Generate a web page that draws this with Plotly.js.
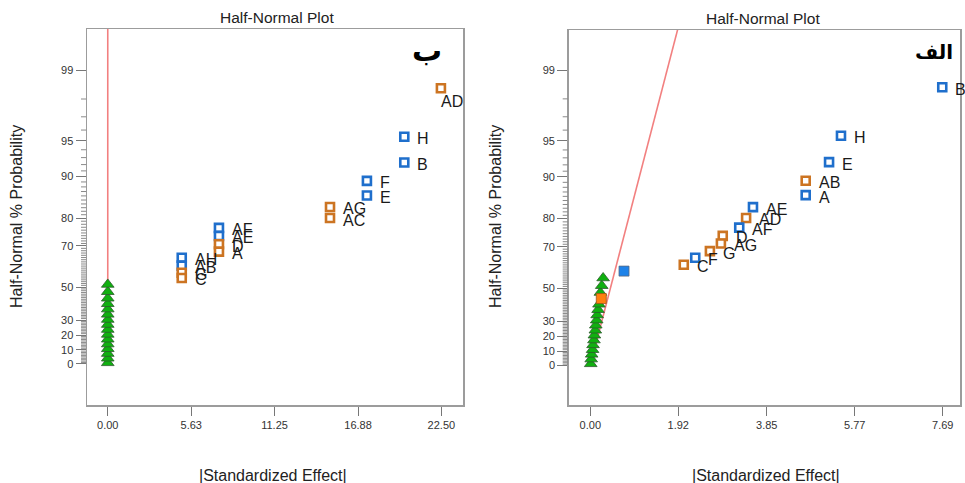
<!DOCTYPE html>
<html>
<head>
<meta charset="utf-8">
<script src="https://cdn.plot.ly/plotly-3.0.1.min.js"></script>
<style>html,body{margin:0;padding:0;background:#fff;overflow:hidden}#chart{width:965px;height:483px}</style>
</head>
<body>
<div id="chart"></div>
<script>
// ---------- DATA ----------
// Left panel (ب): labelled effects
const leftLabels = ['AD','H','B','F','E','AG','AC','AF','AE','D','A','AH','AB','G','C'];
const leftEffect = [22.47,20.0,20.0,17.48,17.48,14.99,14.99,7.50,7.50,7.50,7.50,4.99,4.99,4.99,4.99];
const leftProb   = [98.45,95.4,92.3,89.2,86.1,83.2,80.0,76.8,73.9,70.7,67.6,64.9,61.2,57.7,55.0];
const leftSign   = ['-','+','+','+','+','-','-','+','+','-','-','+','+','-','-'];
// Left panel error terms
const leftErrEffect = [0,0,0,0,0,0,0,0,0,0,0,0,0,0,0,0];
const leftErrProb   = [0.8,4.0,7.3,10.6,13.9,17.2,20.5,23.8,27.1,30.4,33.7,37.0,40.3,43.6,47.4,51.5];
// Left panel reference line
const leftLineEffect = [0, 0];
const leftLineProb   = [0, 99.9];

// Right panel (الف): labelled effects
const rightLabels = ['B','H','E','AB','A','AE','AD','AF','D','AG','G','F','C'];
const rightEffect = [7.68,5.47,5.21,4.70,4.70,3.55,3.40,3.25,2.89,2.85,2.61,2.29,2.04];
const rightProb   = [98.48,95.5,92.4,89.3,86.3,83.3,80.2,77.1,74.2,71.3,68.2,65.3,62.1];
const rightSign   = ['+','+','+','-','+','+','-','+','-','-','-','+','-'];
// Right panel unlabelled (filled) effects
const rightFillEffect = [0.736, 0.24];
const rightFillProb   = [59.0, 44.1];
const rightFillSign   = ['+','-'];
// Right panel error terms
const rightErrEffect = [0.01,0.02,0.03,0.05,0.06,0.08,0.09,0.11,0.12,0.14,0.15,0.17,0.19,0.22,0.25,0.28];
const rightErrProb   = [1.2,4.5,7.8,11.0,14.3,17.6,20.9,24.2,27.5,30.8,34.1,37.4,40.7,47.6,51.4,55.5];
// Right panel reference line
const rightLineEffect = [0, 1.93];
const rightLineProb   = [0, 99.7];

// Tick labels
const leftXTicks  = ['0.00','5.63','11.25','16.88','22.50'];
const rightXTicks = ['0.00','1.92','3.85','5.77','7.69'];
const yTickLabels = ['0','10','20','30','50','70','80','90','95','99'];

// ---------- SCALE: half-normal probability ----------
function invNorm(p){
  const a=[-3.969683028665376e+01,2.209460984245205e+02,-2.759285104469687e+02,1.383577518672690e+02,-3.066479806614716e+01,2.506628277459239e+00];
  const b=[-5.447609879822406e+01,1.615858368580409e+02,-1.556989798598866e+02,6.680131188771972e+01,-1.328068155288572e+01];
  const c=[-7.784894002430293e-03,-3.223964580411365e-01,-2.400758277161838e+00,-2.549732539343734e+00,4.374664141464968e+00,2.938163982698783e+00];
  const d=[7.784695709041462e-03,3.224671290700398e-01,2.445134137142996e+00,3.754408661907416e+00];
  const pl=0.02425, ph=1-pl; let q,r;
  if(p<pl){q=Math.sqrt(-2*Math.log(p));return (((((c[0]*q+c[1])*q+c[2])*q+c[3])*q+c[4])*q+c[5])/((((d[0]*q+d[1])*q+d[2])*q+d[3])*q+1);}
  if(p<=ph){q=p-0.5;r=q*q;return (((((a[0]*r+a[1])*r+a[2])*r+a[3])*r+a[4])*r+a[5])*q/(((((b[0]*r+b[1])*r+b[2])*r+b[3])*r+b[4])*r+1);}
  q=Math.sqrt(-2*Math.log(1-p));return -(((((c[0]*q+c[1])*q+c[2])*q+c[3])*q+c[4])*q+c[5])/((((d[0]*q+d[1])*q+d[2])*q+d[3])*q+1);
}
const hn = pct => pct<=0 ? 0 : invNorm(0.5 + pct/200);
const Z = arr => arr.map(hn);

const yMajor = yTickLabels.map(Number);
const yMinor = [];
for(let i=1;i<99;i++){ if(yMajor.indexOf(i)<0) yMinor.push(i); }

// ---------- STYLE ----------
const FONT = 'Liberation Sans, Arial, sans-serif';
const BLUE = '#1f6fcc', ORANGE = '#cc7422';
const signColor = s => s==='+' ? BLUE : ORANGE;
const W=965, H=483;
const px = x => x/W, py = y => 1 - y/H;

const leftDom = [87/W, 463/W], rightDom = [568.7/W, 960/W];
const leftYDom = [78/H, 454/H], rightYDom = [78/H, 453/H];
const leftXRange = [-1.40, 23.96], rightXRange = [-0.471, 8.067];
const leftYRange = [-0.36, 2.941], rightYRange = [-0.344, 2.927];

function labelled(xs, ps, signs, xa, ya){
  return {x: xs, y: Z(ps), xaxis: xa, yaxis: ya, type:'scatter', mode:'markers',
    marker:{symbol:'square', size:8, color:'#fff', line:{color: signs.map(signColor), width:2.6}},
    hoverinfo:'skip'};
}
function errors(xs, ps, xa, ya){
  return {x: xs, y: Z(ps), xaxis: xa, yaxis: ya, type:'scatter', mode:'markers',
    marker:{symbol:'triangle-up', size:11, color:'#10b010', line:{color:'#2d5a2d', width:0.8}}, hoverinfo:'skip'};
}
function refLine(xs, ps, xa, ya){
  return {x: xs, y: Z(ps), xaxis: xa, yaxis: ya, type:'scatter', mode:'lines',
    line:{color:'#f28080', width:1.6}, hoverinfo:'skip'};
}
function pointLabels(xs, ps, labels, xa, ya, special){
  const zs = Z(ps);
  return labels.map((t,i)=>{
    const below = special && special.indexOf(t)>=0;
    return {text:t, x: xs[i], y: zs[i], xref: xa, yref: ya, showarrow:false,
      xanchor:'left', yanchor:'middle', xshift: below ? -2 : 11, yshift: below ? -13 : -2,
      font:{family:FONT, size:16, color:'#1a1a1a'}};
  });
}
// minor tick marks of the probability axis (mapped with the same linear axis scale as the y axis)
function minorTicks(xDom, yDom, yRange){
  return Z(yMinor).map(z => {
    const yp = yDom[0] + (z - yRange[0]) / (yRange[1] - yRange[0]) * (yDom[1] - yDom[0]);
    return {type:'line', xref:'paper', yref:'paper', x0: xDom[0] - 6/W, x1: xDom[0] - 0.75/W, y0: yp, y1: yp,
      line:{color:'#8a8a8a', width:1}};
  });
}

const traces = [
  refLine(leftLineEffect, leftLineProb, 'x', 'y'),
  errors(leftErrEffect, leftErrProb, 'x', 'y'),
  labelled(leftEffect, leftProb, leftSign, 'x', 'y'),
  refLine(rightLineEffect, rightLineProb, 'x2', 'y2'),
  errors(rightErrEffect, rightErrProb, 'x2', 'y2'),
  {x: rightFillEffect, y: Z(rightFillProb), xaxis:'x2', yaxis:'y2', type:'scatter', mode:'markers',
   marker:{symbol:'square', size:10, color: rightFillSign.map(s=> s==='+' ? '#1e82e8' : '#ff7f10'),
   line:{color: rightFillSign.map(s=> s==='+' ? '#5a6a80' : '#a0541a'), width:0.8}}, hoverinfo:'skip'},
  labelled(rightEffect, rightProb, rightSign, 'x2', 'y2')
];

function xAxis(dom, rng, labels, anchor){
  return {domain: dom, range: rng, anchor: anchor, tickmode:'array', tickvals: labels.map(Number), ticktext: labels,
    ticks:'outside', ticklen:9, tickwidth:1, tickcolor:'#777', showline:true, mirror:true, linecolor:'#9c9c9c', linewidth:1.5,
    showgrid:false, zeroline:false, tickfont:{family:FONT, size:11, color:'#333'}, fixedrange:true};
}
function yAxis(dom, rng, anchor){
  return {domain: dom, range: rng, anchor: anchor, tickmode:'array', tickvals: Z(yMajor), ticktext: yTickLabels,
    ticks:'outside', ticklen:10, tickwidth:1, tickcolor:'#777', showline:true, mirror:true, linecolor:'#9c9c9c', linewidth:1.5,
    showgrid:false, zeroline:false, tickfont:{family:FONT, size:11, color:'#333'}, fixedrange:true};
}

function ann(text, x, y, size, opts){
  return Object.assign({text: text, xref:'paper', yref:'paper', x: px(x), y: py(y), xanchor:'center', yanchor:'middle',
    showarrow:false, font:{family:FONT, size:size, color:'#222'}}, opts||{});
}

const layout = {
  width: W, height: H, margin:{l:0, r:0, t:0, b:0}, paper_bgcolor:'#fff', plot_bgcolor:'#fff',
  showlegend:false, hovermode:false,
  xaxis: xAxis(leftDom, leftXRange, leftXTicks, 'y'),
  yaxis: yAxis(leftYDom, leftYRange, 'x'),
  xaxis2: xAxis(rightDom, rightXRange, rightXTicks, 'y2'),
  yaxis2: yAxis(rightYDom, rightYRange, 'x2'),
  shapes: minorTicks(leftDom, leftYDom, leftYRange).concat(minorTicks(rightDom, rightYDom, rightYRange)),
  annotations: [
    ann('Half-Normal Plot', 276.5, 17.5, 15.5),
    ann('Half-Normal Plot', 763, 18.5, 15.5),
    ann('Half-Normal % Probability', 16, 217, 16, {textangle:-90}),
    ann('Half-Normal % Probability', 495, 217, 16, {textangle:-90}),
    ann('|Standardized Effect|', 273, 475, 16),
    ann('|Standardized Effect|', 765.5, 475, 16),
    ann('ب', 427, 50, 30, {font:{family:'DejaVu Sans', size:30, color:'#000', weight:'bold'}}),
    ann('الف', 934, 52, 20, {font:{family:'DejaVu Sans', size:20, color:'#000', weight:'bold'}})
  ].concat(pointLabels(leftEffect, leftProb, leftLabels, 'x', 'y', ['AD']))
   .concat(pointLabels(rightEffect, rightProb, rightLabels, 'x2', 'y2', []))
};

Plotly.newPlot('chart', traces, layout, {staticPlot:true, displayModeBar:false});
</script>
</body>
</html>
